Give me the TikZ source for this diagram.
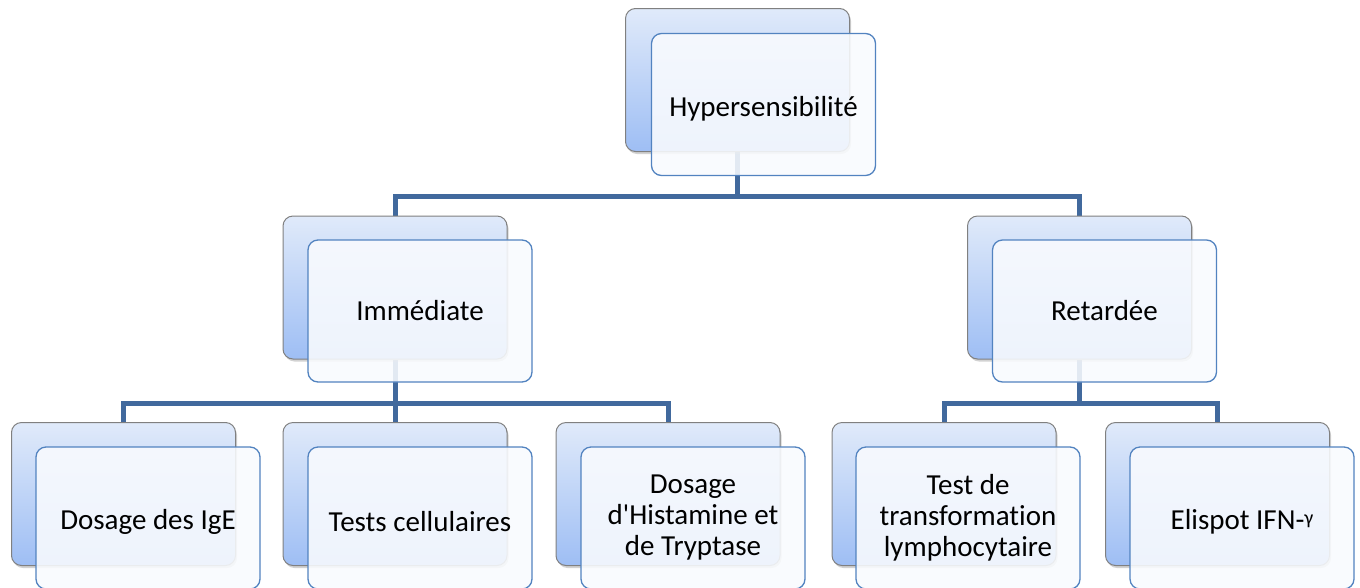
\documentclass[tikz,border=0pt]{standalone}
\usepackage{fontspec}
\setmainfont{Carlito}[Ligatures={NoCommon}]
\usetikzlibrary{shadows,backgrounds}
\definecolor{connc}{HTML}{41699D}
\definecolor{backtop}{HTML}{E0EAFA}
\definecolor{backbot}{HTML}{9EBEF4}
\definecolor{backdraw}{HTML}{808080}
\definecolor{frontdraw}{HTML}{5283C0}
\definecolor{frontfill}{HTML}{F9FBFE}
\newcommand{\lowertxt}[1]{\raisebox{-4pt}[\height][\depth]{#1}}
\tikzset{
  backbox/.style={draw=backdraw, line width=1pt, rounded corners=10pt,
    top color=backtop, bottom color=backbot, minimum width=224pt, minimum height=143pt,
    drop shadow={opacity=0.35, shadow xshift=1.5pt, shadow yshift=-2.5pt}},
  frontbox/.style={draw=frontdraw, line width=1.3pt, rounded corners=10pt,
    fill=frontfill, fill opacity=0.88, text opacity=1, minimum width=224pt, minimum height=142pt,
    align=center, font=\fontsize{29}{31}\selectfont, text=black},
  conn/.style={draw=connc, line width=5pt}
}
\begin{document}
\begin{tikzpicture}[x=1pt,y=-1pt]
\useasboundingbox (0,0) rectangle (1360,587);
% back boxes
\node[backbox] (tb) at (737.5,80) {};
\node[backbox] (ib) at (395,287.5) {};
\node[backbox] (rb) at (1079.5,287.5) {};
\node[backbox] (b1b) at (123.5,494) {};
\node[backbox] (b2b) at (395,494) {};
\node[backbox] (b3b) at (668,494) {};
\node[backbox] (b4b) at (944,494) {};
\node[backbox] (b5b) at (1217.5,494) {};
% front boxes
\node[frontbox] (tf) at (763.5,104.5) {\lowertxt{Hypersensibilité}};
\node[frontbox] (if) at (420,311) {Immédiate};
\node[frontbox] (rf) at (1104.5,311) {Retardée};
\node[frontbox] (b1f) at (148,518) {\lowertxt{Dosage des IgE}};
\node[frontbox] (b2f) at (420,518) {\lowertxt{Tests cellulaires}};
\node[frontbox] (b3f) at (693,518) {Dosage\\d\textquotesingle Histamine et\\de Tryptase};
\node[frontbox] (b4f) at (968,518) {Test de\\transformation\\lymphocytaire};
\node[frontbox] (b5f) at (1242,518) {\lowertxt{Elispot IFN-{\fontsize{20}{20}\selectfont\raisebox{5pt}{γ}}}};
% connectors
\coordinate (bus1) at (737.5,196);
\coordinate (bus2) at (395,403);
\coordinate (bus3) at (1079.5,403);
\begin{pgfonlayer}{background}
\fill[white] (0,0) rectangle (1360,587);
\draw[conn] (tb.south) -- (tb.south |- bus1);
\draw[conn] (ib.north) |- (bus1) -| (rb.north);
\draw[conn] (ib.south) -- (bus2);
\draw[conn] (b1b.north) |- (bus2) -| (b3b.north);
\draw[conn] (bus2) -- (b2b.north);
\draw[conn] (rb.south) -- (bus3);
\draw[conn] (b4b.north) |- (bus3) -| (b5b.north);
\end{pgfonlayer}
\end{tikzpicture}
\end{document}
